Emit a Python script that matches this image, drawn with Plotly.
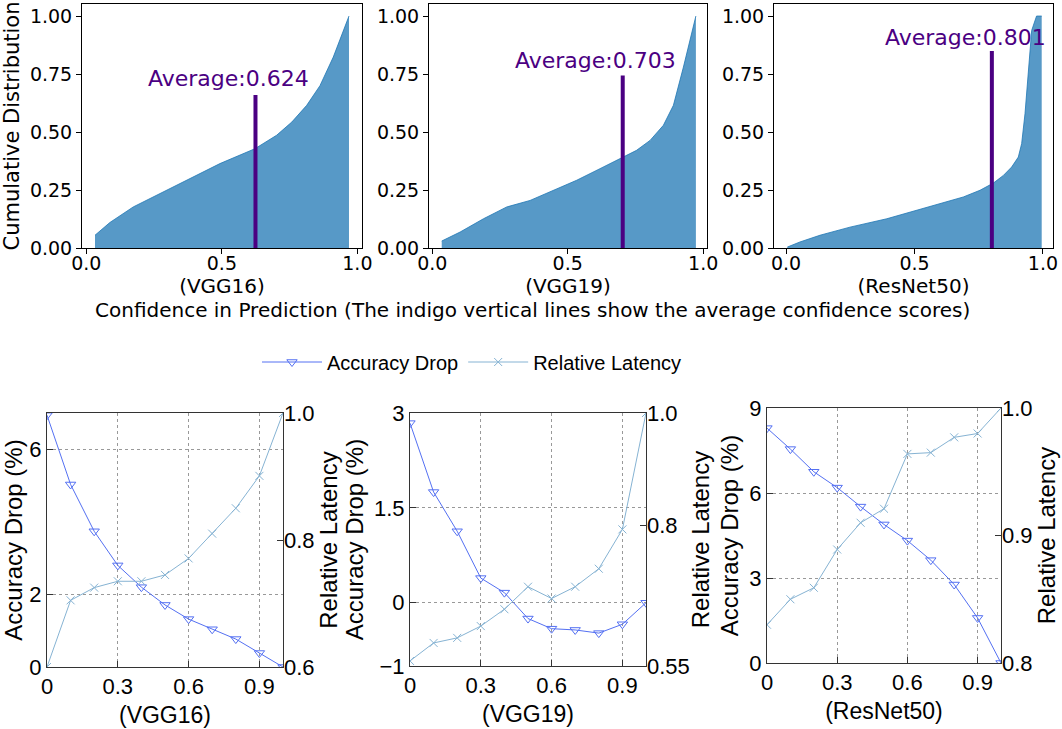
import plotly.graph_objects as go

W, H = 1062, 729

# ---------------- data: cumulative distribution of confidence ----------------
vgg16_conf = [0.032, 0.087, 0.173, 0.247, 0.358, 0.493, 0.622, 0.702, 0.758, 0.813, 0.862, 0.911, 0.969]
vgg16_cdf = [0.055, 0.11, 0.177, 0.22, 0.284, 0.364, 0.428, 0.486, 0.543, 0.615, 0.70, 0.823, 1.0]
vgg19_conf = [0.035, 0.103, 0.189, 0.275, 0.361, 0.447, 0.533, 0.619, 0.693, 0.754, 0.804, 0.853, 0.890, 0.927, 0.973]
vgg19_cdf = [0.03, 0.069, 0.126, 0.177, 0.205, 0.249, 0.292, 0.342, 0.385, 0.421, 0.464, 0.529, 0.615, 0.78, 1.0]
resnet_conf = [0.005, 0.054, 0.132, 0.249, 0.392, 0.495, 0.599, 0.69, 0.755, 0.807, 0.846, 0.878, 0.904, 0.917,
               0.93, 0.943, 0.956, 0.975, 0.995]
resnet_cdf = [0.004, 0.026, 0.055, 0.09, 0.126, 0.159, 0.194, 0.22, 0.249, 0.28, 0.313, 0.349, 0.392, 0.45,
              0.579, 0.78, 0.938, 1.0, 1.0]
averages = [0.624, 0.703, 0.801]
avg_line_tops = [0.66, 0.744, 0.849]
avg_label_x = [0.523, 0.603, 0.699]
avg_label_y = [0.73, 0.809, 0.909]
model_names = ["VGG16", "VGG19", "ResNet50"]

# ---------------- data: threshold sweep ----------------
thresholds = [0.0, 0.1, 0.2, 0.3, 0.4, 0.5, 0.6, 0.7, 0.8, 0.9, 1.0]
vgg16_acc = [6.94, 5.03, 3.74, 2.80, 2.20, 1.71, 1.32, 1.04, 0.77, 0.385, 0.0]
vgg16_lat = [0.6, 0.705, 0.725, 0.735, 0.735, 0.745, 0.771, 0.81, 0.85, 0.901, 1.0]
vgg19_acc = [2.84, 1.75, 1.13, 0.39, 0.16, -0.25, -0.41, -0.43, -0.48, -0.34, 0.0]
vgg19_lat = [0.559, 0.591, 0.60, 0.621, 0.651, 0.691, 0.67, 0.691, 0.723, 0.793, 1.0]
resnet_acc = [8.29, 7.55, 6.75, 6.19, 5.52, 4.89, 4.32, 3.63, 2.77, 1.59, 0.0]
resnet_lat = [0.83, 0.85, 0.859, 0.889, 0.91, 0.921, 0.964, 0.965, 0.977, 0.98, 1.0]

acc_ticks = [[0, 2, 6], [-1, 0, 1.5, 3], [0, 3, 6, 9]]
acc_ranges = [[0, 7], [-1, 3], [0, 9]]
lat_ticks = [[0.6, 0.8, 1.0], [0.55, 0.8, 1.0], [0.8, 0.9, 1.0]]
lat_labels = [["0.6", "0.8", "1.0"], ["0.55", "0.8", "1.0"], ["0.8", "0.9", "1.0"]]
lat_ranges = [[0.6, 1.0], [0.55, 1.0], [0.8, 1.0]]
x_ticks = [0, 0.3, 0.6, 0.9]
x_labels = ["0", "0.3", "0.6", "0.9"]

FILL = "rgba(31,119,180,0.75)"
INDIGO = "#4B0082"
ACC_COLOR = "#5470f2"
LAT_COLOR = "#86b3d3"
TOPFONT = "DejaVu Sans"
BOTFONT = "Liberation Sans"


def fx(a, b):
    return [a / W, b / W]


def fy(top, bottom):
    return [1 - bottom / H, 1 - top / H]


fig = go.Figure()

top_x = [fx(82, 362), fx(429, 707), fx(774, 1053)]
top_xr = [[-0.016, 1.017], [-0.012, 1.014], [-0.047, 1.039]]
top_data = [(vgg16_conf, vgg16_cdf), (vgg19_conf, vgg19_cdf), (resnet_conf, resnet_cdf)]

layout = dict(
    width=W, height=H, margin=dict(l=0, r=0, t=0, b=0, autoexpand=False),
    paper_bgcolor="white", plot_bgcolor="white",
    showlegend=True,
)

annotations = []
for i in range(3):
    xa = "x" if i == 0 else f"x{i+1}"
    ya = "y" if i == 0 else f"y{i+1}"
    xs, ys = top_data[i]
    fig.add_trace(go.Scatter(x=xs, y=ys, mode="lines", fill="tozeroy", fillcolor=FILL,
                             line=dict(color="rgba(31,119,180,0.8)", width=1),
                             xaxis=xa, yaxis=ya, showlegend=False, hoverinfo="skip"))
    fig.add_trace(go.Scatter(x=[averages[i], averages[i]], y=[0, avg_line_tops[i]], mode="lines",
                             line=dict(color=INDIGO, width=4), xaxis=xa, yaxis=ya, showlegend=False))
    annotations.append(dict(x=avg_label_x[i], y=avg_label_y[i], xref=xa, yref=ya,
                            text=f"Average:{averages[i]}", showarrow=False,
                            font=dict(family=TOPFONT, size=22, color=INDIGO)))
    key_x = "xaxis" if i == 0 else f"xaxis{i+1}"
    key_y = "yaxis" if i == 0 else f"yaxis{i+1}"
    layout[key_x] = dict(domain=top_x[i], anchor=ya, range=top_xr[i], automargin=False,
                         tickvals=[0, 0.5, 1.0], ticktext=["0.0", "0.5", "1.0"],
                         ticks="outside", ticklen=5, tickcolor="black", ticklabelstandoff=-7,
                         showline=True, mirror=True, linecolor="black", linewidth=1,
                         showgrid=False, zeroline=False,
                         tickfont=dict(family=TOPFONT, size=19, color="black"),
                         title=dict(text=f"({model_names[i]})", standoff=2,
                                    font=dict(family=TOPFONT, size=20, color="black")))
    layout[key_y] = dict(domain=fy(4, 248), anchor=xa, range=[0, 1.052], automargin=False,
                         tickvals=[0, 0.25, 0.5, 0.75, 1.0], tickformat=".2f",
                         ticks="outside", ticklen=5, tickcolor="black",
                         showline=True, mirror=True, linecolor="black", linewidth=1,
                         showgrid=False, zeroline=False,
                         tickfont=dict(family=TOPFONT, size=19, color="black"))
layout["yaxis"]["title"] = dict(text="Cumulative Distribution", standoff=6,
                                font=dict(family=TOPFONT, size=21, color="black"))

annotations.append(dict(x=532 / W, y=1 - 310 / H, xref="paper", yref="paper",
                        text="Confidence in Prediction (The indigo vertical lines show the average confidence scores)",
                        showarrow=False, font=dict(family=TOPFONT, size=20, color="black")))

# ---------------- bottom panels ----------------
bot_x = [fx(47, 283), fx(410, 646), fx(767, 1001)]
bot_y = [fy(413, 667), fy(413, 666), fy(408, 663)]
bot_data = [(vgg16_acc, vgg16_lat), (vgg19_acc, vgg19_lat), (resnet_acc, resnet_lat)]

for i in range(3):
    xn = 4 + i
    yl = 4 + 2 * i
    yr = yl + 1
    acc, lat = bot_data[i]
    fig.add_trace(go.Scatter(x=thresholds, y=acc, mode="lines+markers", name="Accuracy Drop",
                             line=dict(color=ACC_COLOR, width=1),
                             marker=dict(symbol="triangle-down-open", size=9, color=ACC_COLOR,
                                         line=dict(width=1, color=ACC_COLOR)),
                             xaxis=f"x{xn}", yaxis=f"y{yl}", showlegend=(i == 0)))
    fig.add_trace(go.Scatter(x=thresholds, y=lat, mode="lines+markers", name="Relative Latency",
                             line=dict(color=LAT_COLOR, width=1),
                             marker=dict(symbol="x-thin-open", size=8, color=LAT_COLOR,
                                         line=dict(width=1, color=LAT_COLOR)),
                             xaxis=f"x{xn}", yaxis=f"y{yr}", showlegend=(i == 0)))
    layout[f"xaxis{xn}"] = dict(domain=bot_x[i], anchor=f"y{yl}", range=[0, 1], automargin=False,
                                tickvals=x_ticks, ticktext=x_labels,
                                ticks="inside", ticklen=6, tickcolor="#333",
                                showline=True, mirror=True, linecolor="#333", linewidth=1,
                                showgrid=True, gridcolor="#999", griddash="dot", gridwidth=1,
                                zeroline=False,
                                tickfont=dict(family=BOTFONT, size=22, color="black"),
                                title=dict(text=f"({model_names[i]})", standoff=8,
                                           font=dict(family=BOTFONT, size=23, color="black")))
    layout[f"yaxis{yl}"] = dict(domain=bot_y[i], anchor=f"x{xn}", range=acc_ranges[i], automargin=False,
                                tickvals=acc_ticks[i],
                                ticks="inside", ticklen=6, tickcolor="#333",
                                showline=True, mirror=True, linecolor="#333", linewidth=1,
                                showgrid=True, gridcolor="#999", griddash="dot", gridwidth=1,
                                zeroline=False,
                                tickfont=dict(family=BOTFONT, size=22, color="black"),
                                title=dict(text="Accuracy Drop (%)", standoff=3,
                                           font=dict(family=BOTFONT, size=24, color="black")))
    layout[f"yaxis{yr}"] = dict(domain=bot_y[i], anchor=f"x{xn}", overlaying=f"y{yl}", side="right",
                                range=lat_ranges[i], tickvals=lat_ticks[i], ticktext=lat_labels[i],
                                automargin=False,
                                ticks="inside", ticklen=6, tickcolor="#333",
                                showline=False, showgrid=False, zeroline=False,
                                tickfont=dict(family=BOTFONT, size=22, color="black"),
                                title=dict(text="Relative Latency", standoff=3,
                                           font=dict(family=BOTFONT, size=24, color="black")))

layout["legend"] = dict(orientation="h", x=472 / W, xanchor="center", y=1 - 362 / H, yanchor="middle",
                        font=dict(family=BOTFONT, size=20, color="black"), itemwidth=60,
                        bgcolor="rgba(0,0,0,0)", traceorder="normal")
layout["annotations"] = annotations
fig.update_layout(**layout)

fig.write_html("out.html")
